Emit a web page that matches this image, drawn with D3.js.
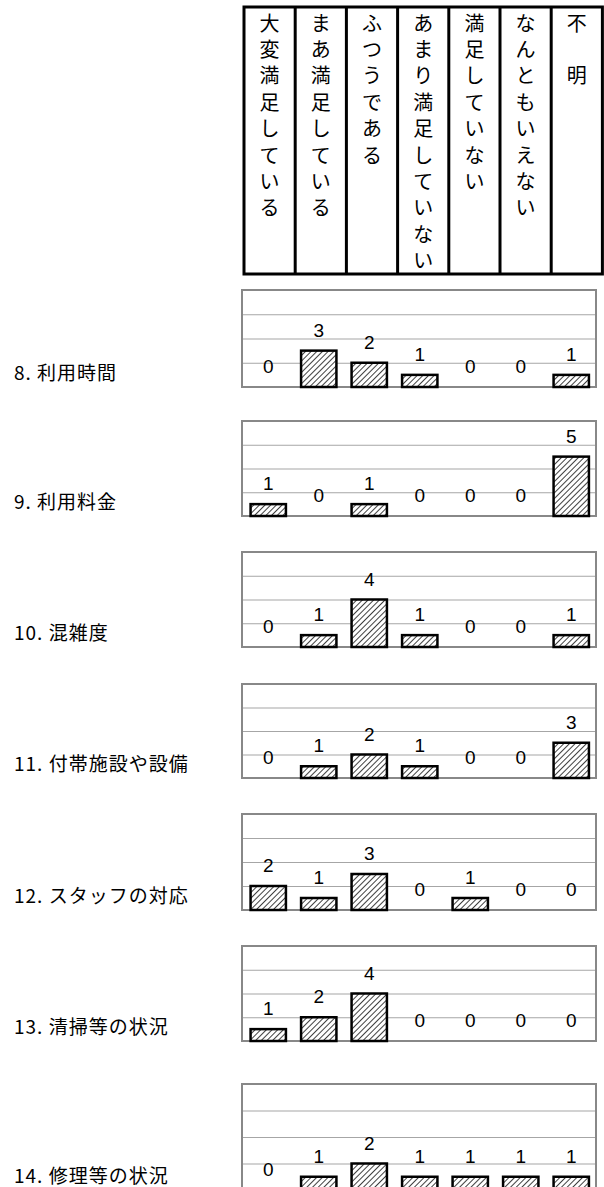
<!DOCTYPE html>
<html><head><meta charset="utf-8">
<script src="https://cdn.jsdelivr.net/npm/d3@7"></script>
<style>
html,body{margin:0;padding:0;background:#fff;}
svg{display:block;}
</style></head>
<body>
<svg id="c" width="604" height="1187"></svg>
<script>
// ---- data ----
const categories = ["大変満足している","まあ満足している","ふつうである","あまり満足していない","満足していない","なんともいえない","不　明"];
const items = ["8. 利用時間","9. 利用料金","10. 混雑度","11. 付帯施設や設備","12. スタッフの対応","13. 清掃等の状況","14. 修理等の状況"];
const q8  = [0,3,2,1,0,0,1];
const q9  = [1,0,1,0,0,0,5];
const q10 = [0,1,4,1,0,0,1];
const q11 = [0,1,2,1,0,0,3];
const q12 = [2,1,3,0,1,0,0];
const q13 = [1,2,4,0,0,0,0];
const q14 = [0,1,2,1,1,1,1];
const gridTicks = [2,4,6];
const yMax = 8;

const series = [q8,q9,q10,q11,q12,q13,q14];

// ---- layout ----
const boxL = 242, boxR = 596;
const tops = [290, 421, 552, 684, 814, 946, 1084];
const bottoms = [387, 516, 647, 778, 910, 1041, 1190];

const svg = d3.select("#c");
const defs = svg.append("defs");
const pat = defs.append("pattern").attr("id","hatch").attr("patternUnits","userSpaceOnUse")
  .attr("width",4).attr("height",4).attr("patternTransform","rotate(45)");
pat.append("rect").attr("width",4).attr("height",4).attr("fill","#fff");
pat.append("line").attr("x1",0).attr("y1",0).attr("x2",0).attr("y2",4).attr("stroke","#000").attr("stroke-width",1.5);

const jp = "'Noto Sans CJK JP','Noto Sans',sans-serif";

// ---- header table ----
const hx = d3.scaleBand().domain(categories).range([244, 602.4]);
const hTop = 7, hBot = 274;
const head = svg.append("g");
head.append("rect").attr("x",244).attr("y",hTop).attr("width",358.4).attr("height",hBot-hTop)
  .attr("fill","none").attr("stroke","#000").attr("stroke-width",3);
head.selectAll("line.div").data(categories.slice(1)).join("line")
  .attr("x1",d=>hx(d)).attr("x2",d=>hx(d)).attr("y1",hTop).attr("y2",hBot)
  .attr("stroke","#000").attr("stroke-width",3);
head.selectAll("text.h").data(categories).join("text")
  .attr("font-family",jp).attr("font-size",20).attr("text-anchor","middle").attr("fill","#000")
  .each(function(d){
    const t = d3.select(this);
    Array.from(d).forEach((ch,i)=>{
      t.append("tspan").attr("x",hx(d)+hx.bandwidth()/2).attr("y",22+i*26.4)
        .attr("dominant-baseline","central").text(ch);
    });
  });

// ---- charts ----
const x = d3.scaleBand().domain(categories).range([243, 596.5]).paddingInner(0.3).paddingOuter(0.15);

series.forEach((vals,k)=>{
  const top = tops[k], bot = bottoms[k];
  const y = d3.scaleLinear().domain([0,yMax]).range([bot, top]);
  const g = svg.append("g");
  const ax = g.append("g").attr("transform",`translate(${boxL},0)`)
    .call(d3.axisLeft(y).tickValues(gridTicks).tickSize(-(boxR-boxL)).tickFormat(""));
  ax.select(".domain").remove();
  ax.selectAll(".tick line").attr("stroke","#a6a6a6").attr("stroke-width",1.2);
  g.append("rect").attr("x",boxL).attr("y",top).attr("width",boxR-boxL).attr("height",bot-top)
    .attr("fill","none").attr("stroke","#888").attr("stroke-width",2);
  const data = categories.map((c,i)=>({c, v: vals[i]}));
  g.selectAll("rect.bar").data(data.filter(d=>d.v>0)).join("rect")
    .attr("x",d=>x(d.c)).attr("width",x.bandwidth())
    .attr("y",d=>y(d.v)).attr("height",d=>y(0)-y(d.v))
    .attr("fill","url(#hatch)").attr("stroke","#000").attr("stroke-width",2.5);
  g.selectAll("text.v").data(data).join("text")
    .attr("x",d=>x(d.c)+x.bandwidth()/2).attr("y",d=>y(d.v)-14)
    .attr("text-anchor","middle").attr("font-family","'Liberation Sans',Arial,sans-serif")
    .attr("font-size",19).attr("fill","#000").text(d=>d.v);
  svg.append("text").attr("x",14).attr("y",bot-16).attr("dominant-baseline","central")
    .attr("font-family",jp).attr("font-size",19).attr("letter-spacing",1).attr("fill","#000")
    .text(items[k]);
});
</script>
</body></html>
